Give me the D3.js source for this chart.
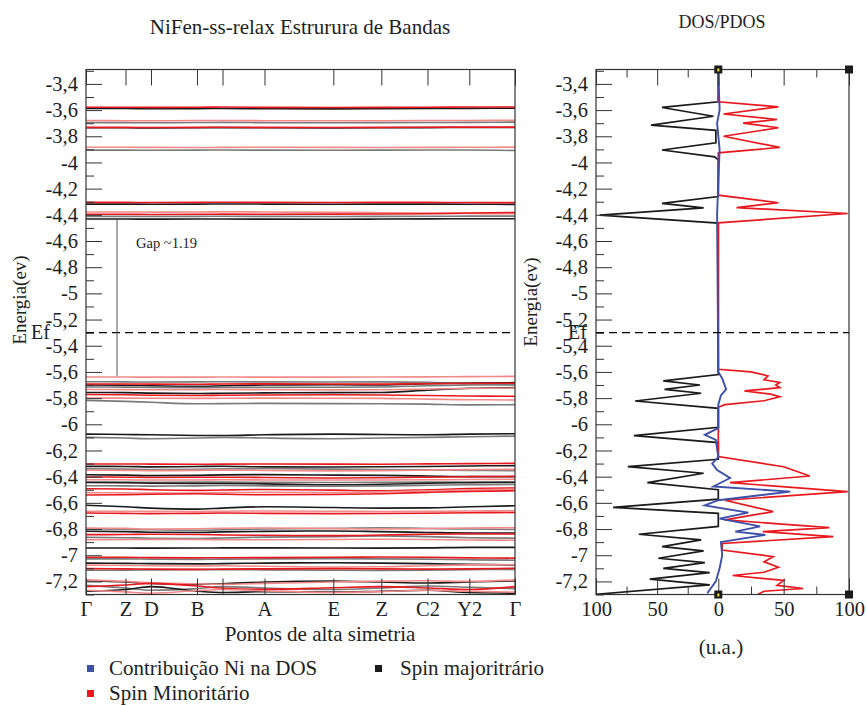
<!DOCTYPE html>
<html>
<head>
<meta charset="utf-8">
<script src="https://cdn.jsdelivr.net/npm/d3@7"></script>
<style>
body { margin: 0; background: #fff; }
text { font-family: "Liberation Serif", "DejaVu Serif", serif; fill: #1e1e1e; }
</style>
</head>
<body>
<script>
// ---- data ----
let kDist = [0, 0.921, 1.515, 2.587, 3.182, 4.161, 5.765, 6.884, 7.96, 8.935, 10]
let kLabels = ["Γ", "Z", "D", "B", "", "A", "E", "Z", "C2", "Y2", "Γ"]

let energyTicks = [-7.2, -7, -6.8, -6.6, -6.4, -6.2, -6, -5.8, -5.6, -5.4, -5.2, -5, -4.8, -4.6, -4.4, -4.2, -4, -3.8, -3.6, -3.4]
let fermi = -5.3
let gapTop = -4.437
let gapBottom = -5.63
let gapText = "Gap ~1.19"

// bandas spin majoritario (valores nos pontos k)
let bandsMajority = [
  [-3.588, -3.588, -3.590, -3.589, -3.588, -3.590, -3.591, -3.589, -3.588, -3.587, -3.586],
  [-3.695, -3.696, -3.697, -3.695, -3.694, -3.696, -3.697, -3.696, -3.695, -3.694, -3.692],
  [-3.735, -3.735, -3.736, -3.735, -3.734, -3.735, -3.736, -3.735, -3.734, -3.733, -3.733],
  [-3.906, -3.906, -3.907, -3.906, -3.905, -3.906, -3.907, -3.906, -3.905, -3.905, -3.909],
  [-4.318, -4.318, -4.319, -4.318, -4.317, -4.318, -4.319, -4.318, -4.318, -4.319, -4.320],
  [-4.412, -4.412, -4.413, -4.412, -4.411, -4.412, -4.413, -4.412, -4.411, -4.410, -4.410],
  [-4.432, -4.432, -4.433, -4.432, -4.432, -4.433, -4.434, -4.432, -4.431, -4.430, -4.430],
  [-5.675, -5.676, -5.677, -5.676, -5.675, -5.676, -5.677, -5.676, -5.680, -5.690, -5.700],
  [-5.700, -5.702, -5.706, -5.710, -5.706, -5.700, -5.698, -5.700, -5.690, -5.684, -5.682],
  [-5.715, -5.716, -5.718, -5.720, -5.719, -5.718, -5.717, -5.715, -5.705, -5.700, -5.698],
  [-5.757, -5.758, -5.762, -5.765, -5.763, -5.760, -5.758, -5.757, -5.740, -5.725, -5.720],
  [-5.817, -5.825, -5.832, -5.843, -5.842, -5.840, -5.842, -5.843, -5.846, -5.852, -5.850],
  [-6.075, -6.078, -6.080, -6.085, -6.086, -6.080, -6.075, -6.078, -6.080, -6.075, -6.072],
  [-6.100, -6.105, -6.110, -6.105, -6.100, -6.105, -6.110, -6.105, -6.100, -6.095, -6.090],
  [-6.321, -6.322, -6.325, -6.322, -6.320, -6.325, -6.326, -6.324, -6.322, -6.318, -6.316],
  [-6.340, -6.342, -6.346, -6.344, -6.340, -6.338, -6.342, -6.346, -6.348, -6.352, -6.354],
  [-6.385, -6.388, -6.392, -6.390, -6.386, -6.384, -6.388, -6.390, -6.395, -6.400, -6.400],
  [-6.442, -6.442, -6.443, -6.442, -6.442, -6.443, -6.444, -6.443, -6.442, -6.441, -6.440],
  [-6.445, -6.447, -6.450, -6.452, -6.452, -6.455, -6.462, -6.458, -6.450, -6.446, -6.444],
  [-6.469, -6.470, -6.472, -6.470, -6.468, -6.470, -6.472, -6.470, -6.466, -6.462, -6.460],
  [-6.618, -6.630, -6.640, -6.648, -6.640, -6.630, -6.636, -6.640, -6.638, -6.630, -6.622],
  [-6.800, -6.802, -6.806, -6.810, -6.806, -6.800, -6.796, -6.790, -6.796, -6.800, -6.804],
  [-6.817, -6.820, -6.824, -6.826, -6.822, -6.818, -6.815, -6.820, -6.826, -6.830, -6.830],
  [-6.863, -6.866, -6.870, -6.872, -6.868, -6.862, -6.858, -6.852, -6.858, -6.866, -6.870],
  [-6.945, -6.945, -6.946, -6.945, -6.944, -6.944, -6.945, -6.946, -6.944, -6.940, -6.940],
  [-7.028, -7.028, -7.030, -7.032, -7.030, -7.028, -7.026, -7.028, -7.030, -7.035, -7.038],
  [-7.060, -7.062, -7.064, -7.066, -7.064, -7.060, -7.058, -7.060, -7.064, -7.070, -7.074],
  [-7.115, -7.114, -7.112, -7.110, -7.110, -7.112, -7.115, -7.116, -7.114, -7.110, -7.108],
  [-7.195, -7.205, -7.215, -7.222, -7.218, -7.205, -7.198, -7.205, -7.212, -7.205, -7.196],
  [-7.230, -7.250, -7.268, -7.255, -7.240, -7.250, -7.262, -7.250, -7.235, -7.245, -7.255],
  [-7.275, -7.262, -7.240, -7.275, -7.285, -7.278, -7.282, -7.275, -7.268, -7.285, -7.290]
]

// bandas spin minoritario
let bandsMinority = [
  [-3.578, -3.578, -3.579, -3.578, -3.577, -3.579, -3.580, -3.579, -3.578, -3.577, -3.576],
  [-3.680, -3.681, -3.682, -3.680, -3.679, -3.681, -3.682, -3.681, -3.680, -3.679, -3.678],
  [-3.732, -3.732, -3.733, -3.732, -3.731, -3.732, -3.733, -3.732, -3.731, -3.730, -3.730],
  [-3.884, -3.884, -3.885, -3.886, -3.885, -3.884, -3.885, -3.886, -3.885, -3.884, -3.883],
  [-4.305, -4.305, -4.306, -4.305, -4.304, -4.305, -4.306, -4.305, -4.305, -4.306, -4.307],
  [-4.378, -4.378, -4.379, -4.378, -4.377, -4.378, -4.381, -4.384, -4.386, -4.390, -4.392],
  [-4.396, -4.396, -4.397, -4.396, -4.395, -4.396, -4.395, -4.394, -4.392, -4.386, -4.382],
  [-5.639, -5.639, -5.640, -5.640, -5.639, -5.640, -5.640, -5.639, -5.638, -5.636, -5.634],
  [-5.692, -5.692, -5.693, -5.694, -5.692, -5.691, -5.692, -5.693, -5.690, -5.688, -5.686],
  [-5.734, -5.735, -5.736, -5.735, -5.734, -5.736, -5.737, -5.736, -5.730, -5.726, -5.724],
  [-5.772, -5.774, -5.778, -5.780, -5.778, -5.776, -5.774, -5.776, -5.780, -5.784, -5.786],
  [-5.800, -5.800, -5.801, -5.802, -5.801, -5.800, -5.801, -5.802, -5.808, -5.812, -5.814],
  [-6.303, -6.303, -6.304, -6.305, -6.304, -6.303, -6.304, -6.305, -6.302, -6.300, -6.298],
  [-6.351, -6.352, -6.354, -6.352, -6.350, -6.352, -6.356, -6.354, -6.350, -6.346, -6.344],
  [-6.402, -6.404, -6.406, -6.405, -6.404, -6.406, -6.410, -6.408, -6.404, -6.400, -6.398],
  [-6.423, -6.424, -6.426, -6.425, -6.424, -6.425, -6.426, -6.425, -6.424, -6.422, -6.420],
  [-6.492, -6.494, -6.500, -6.505, -6.502, -6.498, -6.503, -6.508, -6.500, -6.490, -6.486],
  [-6.522, -6.524, -6.526, -6.525, -6.522, -6.520, -6.522, -6.516, -6.508, -6.500, -6.496],
  [-6.540, -6.538, -6.534, -6.530, -6.534, -6.538, -6.536, -6.530, -6.520, -6.512, -6.508],
  [-6.664, -6.664, -6.665, -6.666, -6.664, -6.662, -6.664, -6.666, -6.665, -6.662, -6.660],
  [-6.678, -6.680, -6.682, -6.680, -6.678, -6.680, -6.682, -6.681, -6.679, -6.676, -6.674],
  [-6.792, -6.795, -6.800, -6.798, -6.794, -6.792, -6.795, -6.800, -6.796, -6.792, -6.790],
  [-6.843, -6.842, -6.840, -6.842, -6.845, -6.848, -6.850, -6.846, -6.840, -6.838, -6.838],
  [-6.881, -6.880, -6.879, -6.880, -6.882, -6.882, -6.880, -6.878, -6.880, -6.884, -6.886],
  [-7.015, -7.016, -7.018, -7.020, -7.019, -7.018, -7.016, -7.014, -7.016, -7.020, -7.022],
  [-7.076, -7.078, -7.080, -7.082, -7.080, -7.084, -7.090, -7.088, -7.080, -7.074, -7.072],
  [-7.102, -7.104, -7.106, -7.108, -7.106, -7.104, -7.102, -7.104, -7.106, -7.104, -7.100],
  [-7.188, -7.200, -7.210, -7.218, -7.222, -7.215, -7.205, -7.198, -7.195, -7.200, -7.188],
  [-7.240, -7.228, -7.215, -7.235, -7.252, -7.260, -7.248, -7.240, -7.250, -7.262, -7.240],
  [-7.268, -7.280, -7.290, -7.270, -7.262, -7.272, -7.285, -7.278, -7.268, -7.275, -7.282]
]

// DOS [energia, valor]
let dosMajority = [
  [-3.29, 0], [-3.537, 0], [-3.58, 46], [-3.647, 4], [-3.715, 55], [-3.755, 2], [-3.85, 2],
  [-3.905, 46], [-3.957, 3], [-3.98, 0], [-4.26, 0], [-4.313, 46], [-4.347, 12], [-4.402, 97],
  [-4.463, 0], [-5.62, 0], [-5.669, 45], [-5.70, 15], [-5.733, 44], [-5.763, 14], [-5.822, 68],
  [-5.878, 0], [-6.023, 0], [-6.087, 69], [-6.14, 0], [-6.267, 0], [-6.324, 74], [-6.374, 12],
  [-6.446, 58], [-6.50, 0], [-6.572, 0], [-6.634, 86], [-6.68, 0], [-6.78, 0], [-6.84, 65],
  [-6.883, 14], [-6.934, 46], [-6.967, 12], [-7.023, 49], [-7.056, 11], [-7.10, 45],
  [-7.133, 7], [-7.183, 56], [-7.227, 7], [-7.298, 100]
]
let dosMinority = [
  [-3.29, 0], [-3.537, 0], [-3.575, 46], [-3.63, 4], [-3.672, 45], [-3.70, 19], [-3.735, 46],
  [-3.80, 4], [-3.885, 47], [-3.927, 0], [-4.25, 0], [-4.308, 46], [-4.345, 14], [-4.39, 99],
  [-4.461, 0], [-5.58, 0], [-5.60, 25], [-5.63, 38], [-5.66, 35], [-5.68, 47], [-5.70, 44],
  [-5.72, 47], [-5.745, 20], [-5.77, 40], [-5.79, 47], [-5.82, 35], [-5.85, 5], [-5.87, 0],
  [-6.247, 0], [-6.324, 50], [-6.395, 70], [-6.446, 9], [-6.514, 99], [-6.58, 5], [-6.667, 42],
  [-6.73, 5], [-6.789, 85], [-6.82, 34], [-6.858, 88], [-6.91, 3], [-6.96, 3], [-7.011, 42],
  [-7.05, 35], [-7.092, 46], [-7.13, 35], [-7.155, 11], [-7.193, 50], [-7.23, 45], [-7.254, 65],
  [-7.275, 35], [-7.30, 30]
]
let dosNi = [
  [-3.29, 0], [-3.6, 1], [-3.7, -1], [-3.9, 1], [-4.4, -1], [-5.6, 0], [-5.65, 3], [-5.733, 6],
  [-5.78, 2], [-5.85, 0], [-6.03, 0], [-6.08, -11], [-6.12, -2], [-6.25, 0], [-6.30, -5],
  [-6.35, -1], [-6.41, 9], [-6.475, -4], [-6.514, 55], [-6.58, 0], [-6.62, -11], [-6.675, 23],
  [-6.72, 1], [-6.78, 32], [-6.82, 13], [-6.845, 36], [-6.90, 2], [-7.0, 3], [-7.1, 1],
  [-7.2, -2], [-7.29, -9]
]
let dosTicks = [-100, -75, -50, -25, 0, 25, 50, 75, 100]

let legendItems = [
  { label: "Contribuição Ni na DOS", color: "#3d4fa8", col: 0, row: 0 },
  { label: "Spin majoritrário", color: "#1a1a1a", col: 1, row: 0 },
  { label: "Spin Minoritário", color: "#e8191e", col: 0, row: 1 }
]

// ---- layout ----
let width = 867
let height = 705
let plotTop = 69.5
let plotBottom = 594.5
let bandLeft = 86
let bandRight = 515
let dosLeft = 596
let dosZero = 718.3
let dosRight = 849

let svg = d3.select("body")
  .append("svg")
  .attr("width", width)
  .attr("height", height)

let y = d3.scaleLinear().domain([-7.30, -3.29]).range([plotBottom, plotTop])
let xk = d3.scaleLinear().domain([0, 10]).range([bandLeft, bandRight])
let xd = d3.scaleLinear().domain([-100, 0, 100]).range([dosLeft, dosZero, dosRight])

let fmt = v => (+v.toFixed(1)).toString().replace(".", ",")
let minorTicks = d3.range(-73, -32, 2).map(v => v / 10)

let defs = svg.append("defs")
defs.append("clipPath").attr("id", "clipBand")
  .append("rect").attr("x", bandLeft).attr("y", plotTop)
  .attr("width", bandRight - bandLeft).attr("height", plotBottom - plotTop)
defs.append("clipPath").attr("id", "clipDos")
  .append("rect").attr("x", dosLeft).attr("y", plotTop)
  .attr("width", dosRight - dosLeft).attr("height", plotBottom - plotTop)

// titulos
svg.append("text").attr("x", 300).attr("y", 34).attr("text-anchor", "middle")
  .style("font-size", "21px").text("NiFen-ss-relax Estrurura de Bandas")
svg.append("text").attr("x", 722).attr("y", 28).attr("text-anchor", "middle")
  .style("font-size", "18px").text("DOS/PDOS")

// ---- painel de bandas ----
let band = svg.append("g")

let bandLine = d3.line()
  .x((d, i) => xk(kDist[i]))
  .y(d => y(d))
  .curve(d3.curveMonotoneX)

let bandsG = band.append("g").attr("clip-path", "url(#clipBand)")
bandsG.selectAll(".maj").data(bandsMajority).join("path")
  .attr("class", "maj")
  .attr("d", bandLine)
  .attr("fill", "none")
  .attr("stroke", (d, i) => i % 2 ? "#7a7a7a" : "#1a1a1a")
  .attr("stroke-width", 1.6)
bandsG.selectAll(".min").data(bandsMinority).join("path")
  .attr("class", "min")
  .attr("d", bandLine)
  .attr("fill", "none")
  .attr("stroke", (d, i) => i % 2 ? "#f28a8a" : "#e8191e")
  .attr("stroke-width", 1.6)

// eixo y
band.append("g").attr("transform", `translate(${bandLeft},0)`)
  .call(d3.axisLeft(y).tickValues(energyTicks).tickFormat(fmt).tickSizeInner(-16).tickSizeOuter(0).tickPadding(8))
  .call(g => g.select(".domain").remove())
band.append("g").attr("transform", `translate(${bandLeft},0)`)
  .call(d3.axisLeft(y).tickValues(minorTicks).tickFormat("").tickSizeInner(-8).tickSizeOuter(0))
  .call(g => g.select(".domain").remove())

// eixo x (pontos de alta simetria)
band.append("g").attr("transform", `translate(0,${plotBottom})`)
  .call(d3.axisBottom(xk).tickValues(kDist).tickFormat((d, i) => kLabels[i]).tickSizeInner(-16).tickSizeOuter(0).tickPadding(7))
  .call(g => g.select(".domain").remove())
band.append("g").attr("transform", `translate(0,${plotTop})`)
  .call(d3.axisTop(xk).tickValues(kDist).tickFormat("").tickSizeInner(-16).tickSizeOuter(0))
  .call(g => g.select(".domain").remove())

band.append("rect").attr("x", bandLeft).attr("y", plotTop)
  .attr("width", bandRight - bandLeft).attr("height", plotBottom - plotTop)
  .attr("fill", "none").attr("stroke", "#333").attr("stroke-width", 1.2)

// nivel de Fermi
band.append("line").attr("x1", bandLeft).attr("x2", bandRight)
  .attr("y1", y(fermi)).attr("y2", y(fermi))
  .attr("stroke", "#000").attr("stroke-width", 1.3).attr("stroke-dasharray", "8,5")
band.append("text").attr("x", 50).attr("y", y(fermi) + 6).attr("text-anchor", "end")
  .style("font-size", "20px").text("Ef")

// gap
band.append("line").attr("x1", 117).attr("x2", 117)
  .attr("y1", y(gapTop)).attr("y2", y(gapBottom))
  .attr("stroke", "#555").attr("stroke-width", 1)
band.append("text").attr("x", 136).attr("y", y(-4.65))
  .style("font-size", "14.5px").text(gapText)

band.append("text").attr("transform", "translate(26,300) rotate(-90)")
  .attr("text-anchor", "middle").style("font-size", "19px").text("Energia(ev)")
band.append("text").attr("x", 320).attr("y", 641).attr("text-anchor", "middle")
  .style("font-size", "21px").text("Pontos de alta simetria")

// ---- painel DOS ----
let dos = svg.append("g")
let dosG = dos.append("g").attr("clip-path", "url(#clipDos)")

dosG.append("path").datum(dosMajority)
  .attr("d", d3.line().x(d => xd(-d[1])).y(d => y(d[0])))
  .attr("fill", "none").attr("stroke", "#1a1a1a").attr("stroke-width", 1.7)
dosG.append("path").datum(dosMinority)
  .attr("d", d3.line().x(d => xd(d[1])).y(d => y(d[0])))
  .attr("fill", "none").attr("stroke", "#e8191e").attr("stroke-width", 1.7)
dosG.append("path").datum(dosNi)
  .attr("d", d3.line().x(d => xd(d[1])).y(d => y(d[0])))
  .attr("fill", "none").attr("stroke", "#3d4fa8").attr("stroke-width", 1.9)

dos.append("g").attr("transform", `translate(${dosLeft},0)`)
  .call(d3.axisLeft(y).tickValues(energyTicks).tickFormat(fmt).tickSizeInner(-16).tickSizeOuter(0).tickPadding(8))
  .call(g => g.select(".domain").remove())
dos.append("g").attr("transform", `translate(${dosLeft},0)`)
  .call(d3.axisLeft(y).tickValues(minorTicks).tickFormat("").tickSizeInner(-8).tickSizeOuter(0))
  .call(g => g.select(".domain").remove())

let majorDos = dosTicks.filter(d => d % 50 === 0)
let minorDos = dosTicks.filter(d => d % 50 !== 0)
dos.append("g").attr("transform", `translate(0,${plotBottom})`)
  .call(d3.axisBottom(xd).tickValues(majorDos).tickFormat(d => Math.abs(d)).tickSizeInner(-16).tickSizeOuter(0).tickPadding(7))
  .call(g => g.select(".domain").remove())
dos.append("g").attr("transform", `translate(0,${plotBottom})`)
  .call(d3.axisBottom(xd).tickValues(minorDos).tickFormat("").tickSizeInner(-8).tickSizeOuter(0))
  .call(g => g.select(".domain").remove())
dos.append("g").attr("transform", `translate(0,${plotTop})`)
  .call(d3.axisTop(xd).tickValues(majorDos).tickFormat("").tickSizeInner(-16).tickSizeOuter(0))
  .call(g => g.select(".domain").remove())
dos.append("g").attr("transform", `translate(0,${plotTop})`)
  .call(d3.axisTop(xd).tickValues(minorDos).tickFormat("").tickSizeInner(-8).tickSizeOuter(0))
  .call(g => g.select(".domain").remove())

svg.selectAll(".tick text").style("font-size", "20.5px").style("font-family", "Liberation Serif, serif").attr("fill", "#1e1e1e")
svg.selectAll(".tick line").attr("stroke", "#333")

dos.append("rect").attr("x", dosLeft).attr("y", plotTop)
  .attr("width", dosRight - dosLeft).attr("height", plotBottom - plotTop)
  .attr("fill", "none").attr("stroke", "#333").attr("stroke-width", 1.2)

dos.append("line").attr("x1", dosLeft).attr("x2", dosRight)
  .attr("y1", y(fermi)).attr("y2", y(fermi))
  .attr("stroke", "#000").attr("stroke-width", 1.3).attr("stroke-dasharray", "8,5")
dos.append("text").attr("x", 587).attr("y", y(fermi) + 6).attr("text-anchor", "end")
  .style("font-size", "20px").text("Ef")

// marcadores quadrados do grafico
let corners = [[0, plotTop], [100, plotTop], [0, plotBottom], [100, plotBottom]]
dos.selectAll(".corner").data(corners).join("rect")
  .attr("class", "corner")
  .attr("x", d => xd(d[0]) - 4).attr("y", d => d[1] - 4)
  .attr("width", 8).attr("height", 8).attr("fill", "#1a1a1a")
dos.selectAll(".cdot").data(corners.filter(d => d[0] === 0)).join("rect")
  .attr("class", "cdot")
  .attr("x", d => xd(d[0]) - 1).attr("y", d => d[1] - 1)
  .attr("width", 2).attr("height", 3).attr("fill", "#f5e400")

dos.append("text").attr("transform", "translate(537,302) rotate(-90)")
  .attr("text-anchor", "middle").style("font-size", "19px").text("Energia(ev)")
dos.append("text").attr("x", 721).attr("y", 654).attr("text-anchor", "middle")
  .style("font-size", "21px").text("(u.a.)")

// ---- legenda ----
let legend = svg.append("g")
let lg = legend.selectAll("g").data(legendItems).join("g")
  .attr("transform", d => `translate(${87 + d.col * 288},${668 + d.row * 25})`)
lg.append("rect").attr("x", 0).attr("y", -3).attr("width", 7).attr("height", 7)
  .attr("fill", d => d.color)
lg.append("text").attr("x", d => 22 + d.col * 3).attr("y", 7)
  .style("font-size", "21px").text(d => d.label)
</script>
</body>
</html>
